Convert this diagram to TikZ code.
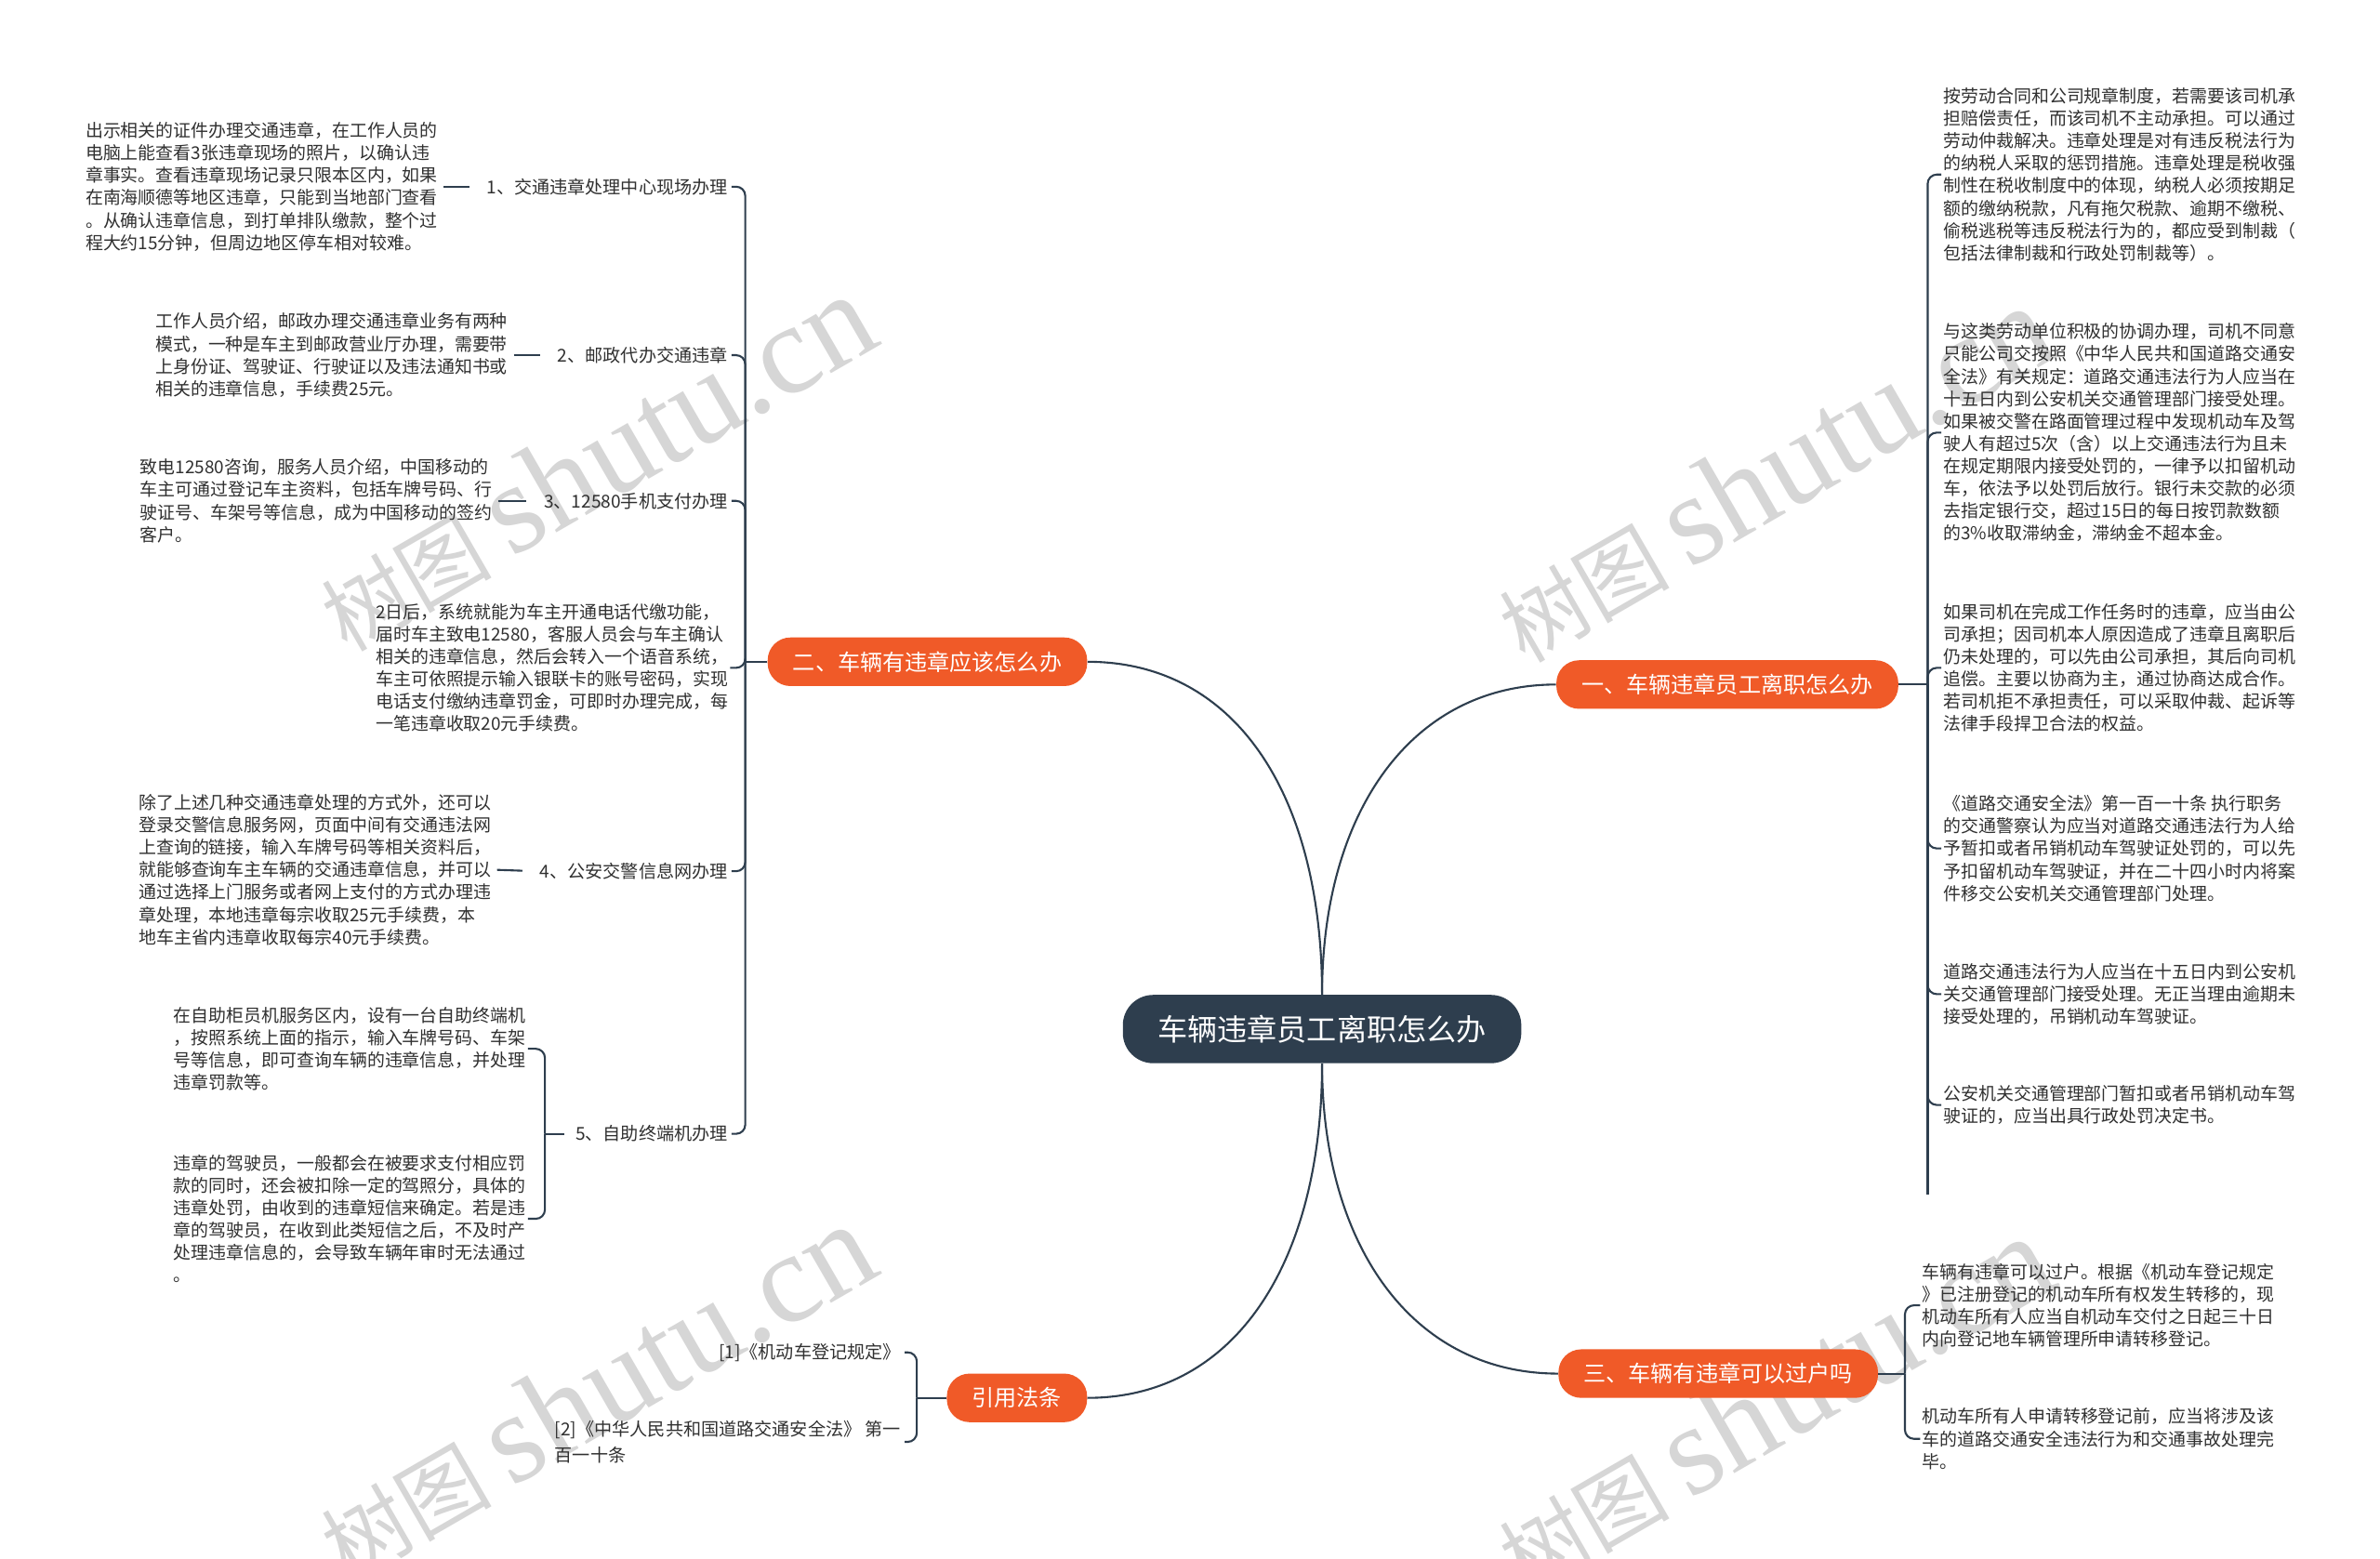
\documentclass[tikz,border=0pt]{standalone}
\usepackage{fontspec}
\setmainfont{Noto Sans CJK SC}
\newfontfamily\wmfont{Liberation Serif}
\usepackage{tikz}

\definecolor{slate}{HTML}{2E3E4E}
\definecolor{tang}{HTML}{F05A28}
\definecolor{ink}{HTML}{303030}

\begin{document}
\begin{tikzpicture}[x=0.03cm, y=-0.03cm,
  txt/.style={align=left, inner sep=1pt, text=ink,
    font=\fontsize{9.9}{12.6}\selectfont},
  lab/.style={inner xsep=2pt, inner ysep=1pt, text=ink,
    font=\fontsize{10}{12}\selectfont},
  root/.style={fill=slate, text=white, rounded corners=0.6cm,
    minimum height=1.35cm, inner xsep=0.69cm,
    font=\fontsize{16.8}{20}\selectfont},
  topic/.style={fill=tang, text=white, rounded corners=0.45cm,
    minimum height=0.96cm, inner xsep=0.5cm,
    font=\fontsize{12.6}{15}\selectfont},
  conn/.style={draw=slate, line width=1.1pt},
  hook/.style={conn, rounded corners=0.18cm},
  tie/.style={conn, shorten <=0.08cm, shorten >=0.27cm},
  wm/.style={text=gray!32, rotate=30, font=\fontsize{48}{48}\selectfont}]
  \fill[white] (0,0) rectangle (1568,1027);
  \useasboundingbox (0,0) rectangle (1568,1027);
  % watermarks
  \node[wm] (w1) at (392,305) {树图\ {\wmfont\fontsize{72}{72}\selectfont shutu.cn}};
  \node[wm] (w2) at (1168,312) {树图\ {\wmfont\fontsize{72}{72}\selectfont shutu.cn}};
  \node[wm] (w3) at (392,917) {树图\ {\wmfont\fontsize{72}{72}\selectfont shutu.cn}};
  \node[wm] (w4) at (1168,925) {树图\ {\wmfont\fontsize{72}{72}\selectfont shutu.cn}};
  % root and topics
  \node[root] (root) at (871,678) {车辆违章员工离职怎么办};
  \node[topic] (b2) at (611,436) {二、车辆有违章应该怎么办};
  \node[topic] (b1) at (1138,451) {一、车辆违章员工离职怎么办};
  \node[topic] (b3) at (1132,905) {三、车辆有违章可以过户吗};
  \node[topic] (b4) at (670,921) {引用法条};
  \draw[conn] (root.north) .. controls (871,525) and (815,436) .. (b2.east);
  \draw[conn] (root.north) .. controls (871,535) and (930,451) .. (b1.west);
  \draw[conn] (root.south) .. controls (871,820) and (930,905) .. (b3.west);
  \draw[conn] (root.south) .. controls (871,830) and (815,921) .. (b4.east);
  % branch two
  \node[lab, anchor=east] (l1) at (482,123) {1、交通违章处理中心现场办理};
  \node[lab, anchor=east] (l2) at (482,234) {2、邮政代办交通违章};
  \node[lab, anchor=east] (l3) at (482,330) {3、12580手机支付办理};
  \node[lab, anchor=east] (l4) at (482,574) {4、公安交警信息网办理};
  \node[lab, anchor=east] (l5) at (482,747) {5、自助终端机办理};
  \node[txt, anchor=west] (t1) at (55,123) {出示相关的证件办理交通违章，在工作人员的\\
    电脑上能查看3张违章现场的照片，以确认违\\
    章事实。查看违章现场记录只限本区内，如果\\
    在南海顺德等地区违章，只能到当地部门查看\\
    。从确认违章信息，到打单排队缴款，整个过\\
    程大约15分钟，但周边地区停车相对较难。};
  \node[txt, anchor=west] (t2) at (101,234) {工作人员介绍，邮政办理交通违章业务有两种\\
    模式，一种是车主到邮政营业厅办理，需要带\\
    上身份证、驾驶证、行驶证以及违法通知书或\\
    相关的违章信息，手续费25元。};
  \node[txt, anchor=west] (t3) at (91,330) {致电12580咨询，服务人员介绍，中国移动的\\
    车主可通过登记车主资料，包括车牌号码、行\\
    驶证号、车架号等信息，成为中国移动的签约\\
    客户。};
  \node[txt, anchor=east] (t4) at (481,440) {2日后，系统就能为车主开通电话代缴功能，\\
    届时车主致电12580，客服人员会与车主确认\\
    相关的违章信息，然后会转入一个语音系统，\\
    车主可依照提示输入银联卡的账号密码，实现\\
    电话支付缴纳违章罚金，可即时办理完成，每\\
    一笔违章收取20元手续费。};
  \node[txt, anchor=west] (t5) at (90,573) {除了上述几种交通违章处理的方式外，还可以\\
    登录交警信息服务网，页面中间有交通违法网\\
    上查询的链接，输入车牌号码等相关资料后，\\
    就能够查询车主车辆的交通违章信息，并可以\\
    通过选择上门服务或者网上支付的方式办理违\\
    章处理，本地违章每宗收取25元手续费，本\\
    地车主省内违章收取每宗40元手续费。};
  \node[txt, anchor=west] (t6a) at (113,691) {在自助柜员机服务区内，设有一台自助终端机\\
    ，按照系统上面的指示，输入车牌号码、车架\\
    号等信息，即可查询车辆的违章信息，并处理\\
    违章罚款等。};
  \node[txt, anchor=west] (t6b) at (113,803) {违章的驾驶员，一般都会在被要求支付相应罚\\
    款的同时，还会被扣除一定的驾照分，具体的\\
    违章处罚，由收到的违章短信来确定。若是违\\
    章的驾驶员，在收到此类短信之后，不及时产\\
    处理违章信息的，会导致车辆年审时无法通过\\
    。};
  \coordinate (j2) at (491,436);
  \draw[conn] (b2.west) -- (j2);
  \foreach \n in {l1,l2,l3,t4,l4,l5}
    \draw[hook] (j2) |- (\n.east);
  \draw[tie] (t1.east) -- (l1.west);
  \draw[tie] (t2.east) -- (l2.west);
  \draw[tie] (t3.east) -- (l3.west);
  \draw[tie] (t5.east) -- (l4.west);
  \coordinate (j5) at (359,747);
  \draw[conn, shorten <=0.15cm] (l5.west) -- (j5);
  \foreach \n in {t6a,t6b}
    \draw[hook] (j5) |- (\n.east);
  % citations
  \node[lab, anchor=east] (c1) at (596,891) {[1]《机动车登记规定》};
  \node[lab, align=left, anchor=west, font=\fontsize{10}{15}\selectfont] (c2) at (363,950)
    {[2]《中华人民共和国道路交通安全法》 第一\\百一十条};
  \coordinate (j4) at (604,921);
  \draw[conn] (b4.west) -- (j4);
  \foreach \n in {c1,c2}
    \draw[hook] (j4) |- (\n.east);
  % branch one
  \node[txt, anchor=west] (r1) at (1279,115) {按劳动合同和公司规章制度，若需要该司机承\\
    担赔偿责任，而该司机不主动承担。可以通过\\
    劳动仲裁解决。违章处理是对有违反税法行为\\
    的纳税人采取的惩罚措施。违章处理是税收强\\
    制性在税收制度中的体现，纳税人必须按期足\\
    额的缴纳税款，凡有拖欠税款、逾期不缴税、\\
    偷税逃税等违反税法行为的，都应受到制裁（\\
    包括法律制裁和行政处罚制裁等）。};
  \node[txt, anchor=west] (r2) at (1279,285) {与这类劳动单位积极的协调办理，司机不同意\\
    只能公司交按照《中华人民共和国道路交通安\\
    全法》有关规定：道路交通违法行为人应当在\\
    十五日内到公安机关交通管理部门接受处理。\\
    如果被交警在路面管理过程中发现机动车及驾\\
    驶人有超过5次（含）以上交通违法行为且未\\
    在规定期限内接受处罚的，一律予以扣留机动\\
    车，依法予以处罚后放行。银行未交款的必须\\
    去指定银行交，超过15日的每日按罚款数额\\
    的3\%收取滞纳金，滞纳金不超本金。};
  \node[txt, anchor=west] (r3) at (1279,440) {如果司机在完成工作任务时的违章，应当由公\\
    司承担；因司机本人原因造成了违章且离职后\\
    仍未处理的，可以先由公司承担，其后向司机\\
    追偿。主要以协商为主，通过协商达成合作。\\
    若司机拒不承担责任，可以采取仲裁、起诉等\\
    法律手段捍卫合法的权益。};
  \node[txt, anchor=west] (r4) at (1279,559) {《道路交通安全法》第一百一十条 执行职务\\
    的交通警察认为应当对道路交通违法行为人给\\
    予暂扣或者吊销机动车驾驶证处罚的，可以先\\
    予扣留机动车驾驶证，并在二十四小时内将案\\
    件移交公安机关交通管理部门处理。};
  \node[txt, anchor=west] (r5) at (1279,655) {道路交通违法行为人应当在十五日内到公安机\\
    关交通管理部门接受处理。无正当理由逾期未\\
    接受处理的，吊销机动车驾驶证。};
  \node[txt, anchor=west] (r6) at (1279,728) {公安机关交通管理部门暂扣或者吊销机动车驾\\
    驶证的，应当出具行政处罚决定书。};
  \coordinate (r7) at (1270,787);
  \coordinate (j1) at (1270,451);
  \draw[conn] (b1.east) -- (j1);
  \foreach \n in {r1,r2,r3,r4,r5,r6}
    \draw[hook] (j1) |- (\n.west);
  \draw[conn] (j1) -- (r7);
  % branch three
  \node[txt, anchor=west] (s1) at (1265,860) {车辆有违章可以过户。根据《机动车登记规定\\
    》已注册登记的机动车所有权发生转移的，现\\
    机动车所有人应当自机动车交付之日起三十日\\
    内向登记地车辆管理所申请转移登记。};
  \node[txt, anchor=west] (s2) at (1265,948) {机动车所有人申请转移登记前，应当将涉及该\\
    车的道路交通安全违法行为和交通事故处理完\\
    毕。};
  \coordinate (j3) at (1255,905);
  \draw[conn] (b3.east) -- (j3);
  \foreach \n in {s1,s2}
    \draw[hook] (j3) |- (\n.west);
\end{tikzpicture}
\end{document}
